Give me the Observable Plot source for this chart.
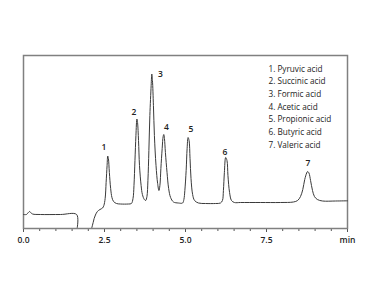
<!DOCTYPE html>
<html>
<head>
<meta charset="utf-8">
<script src="https://cdn.jsdelivr.net/npm/d3@7"></script>
<script src="https://cdn.jsdelivr.net/npm/@observablehq/plot@0.6"></script>
<style>
  html, body { margin: 0; padding: 0; background: #fff; }
  svg { display: block; }
</style>
</head>
<body>
<div id="chart"></div>
<script>
// Retention time (min) and detector signal (arbitrary units); null = break in the trace
const retentionTime = [
  0.00, 0.09, 0.15, 0.19, 0.22, 0.28, 0.52, 1.14, 1.64, 1.66,
  1.90,
  2.11, 2.15, 2.18, 2.22, 2.28, 2.36, 2.44, 2.48, 2.52, 2.55, 2.58, 2.60, 2.62, 2.65, 2.69, 2.73, 2.78, 2.87, 2.99,
  3.24, 3.33, 3.38, 3.41, 3.44, 3.47, 3.50, 3.52, 3.55, 3.58, 3.63, 3.67, 3.73, 3.77, 3.81, 3.84, 3.87, 3.90, 3.94, 3.96, 3.98,
  4.01, 4.04, 4.09, 4.14, 4.18, 4.21, 4.24, 4.28, 4.31, 4.33, 4.35, 4.38, 4.43, 4.48, 4.54, 4.63, 4.78, 4.91, 4.95, 4.98,
  5.02, 5.05, 5.08, 5.11, 5.14, 5.17, 5.22, 5.28, 5.40, 5.62, 5.93,
  6.08, 6.14, 6.17, 6.20, 6.24, 6.28, 6.31, 6.36, 6.42, 6.51, 6.70,
  7.31, 7.93, 8.33, 8.46, 8.55, 8.62, 8.68, 8.74, 8.77, 8.81, 8.86, 8.92, 8.98,
  9.07, 9.23, 9.63, 10.00
];
const signal = [
  14, 14, 16, 17, 16, 14.5, 14, 14, 14, 1,
  null,
  1, 6, 10, 13.5, 17, 19, 20.5, 23, 30, 46, 63, 72.5, 70, 56, 40, 31, 27, 25, 24.5,
  24.5, 25, 30, 43, 68, 93, 109.5, 106, 88, 63, 43, 34, 29, 28, 32, 48, 78, 113, 143, 154.5, 148,
  123, 93, 63, 45, 38, 43, 60, 80, 92, 94, 90, 76, 56, 40, 31, 26.5, 25.5, 25.5, 29, 38,
  58, 80, 91, 88, 70, 50, 34, 28, 25.5, 25, 25,
  25.5, 28, 38, 56, 71, 68, 53, 36, 28, 26, 26,
  26, 26, 26.5, 28, 32, 39, 49, 55.5, 57, 55.5, 48, 38, 32,
  29, 27.5, 27.5, 27.7
];

// Peak numbers and where their labels sit
const peakNumbers = ["1", "2", "3", "4", "5", "6", "7"];
const peakLabelTime = [2.48, 3.41, 4.23, 4.41, 5.17, 6.22, 8.78];
const peakLabelHeight = [81, 116, 154, 101, 99, 76.5, 65];

// Compound legend
const compounds = [
  "1. Pyruvic acid",
  "2. Succinic acid",
  "3. Formic acid",
  "4. Acetic acid",
  "5. Propionic acid",
  "6. Butyric acid",
  "7. Valeric acid"
];

// Axis ticks
const minorTicks = d3.range(0, 10.01, 0.5);
const majorTicks = [0, 2.5, 5, 7.5, 10];
const majorTickLabels = ["0.0", "2.5", "5.0", "7.5", "min"];

const trace = retentionTime.map((t, i) => ({t, s: signal[i]}));
const peaks = peakNumbers.map((n, i) => ({n, t: peakLabelTime[i], s: peakLabelHeight[i]}));

const font = "'Open Sans', 'DejaVu Sans', sans-serif";

const chart = Plot.plot({
  width: 372,
  height: 300,
  marginLeft: 23,
  marginRight: 25,
  marginTop: 55,
  marginBottom: 72,
  style: {fontFamily: font, background: "#fff"},
  x: {domain: [0, 10], label: null},
  y: {domain: [0, 173], label: null, axis: null},
  marks: [
    Plot.axisX({ticks: minorTicks, tickSize: 3, tickFormat: () => "", stroke: "#555", label: null}),
    Plot.axisX({
      ticks: majorTicks,
      tickSize: 4,
      tickPadding: 4,
      tickFormat: (d) => majorTickLabels[majorTicks.indexOf(d)],
      stroke: "#555",
      fill: "#222",
      fontSize: 8.5,
      fontWeight: 600,
      label: null
    }),
    Plot.frame({stroke: "#808080", strokeWidth: 1.5}),
    Plot.line(trace, {x: "t", y: "s", stroke: "#3a3a3a", strokeWidth: 1, curve: "catmull-rom"}),
    Plot.text(peaks, {x: "t", y: "s", text: "n", fontSize: 8.5, fontWeight: 600, fill: "#222"}),
    Plot.text([compounds.join("\n")], {
      x: 7.56,
      y: 166,
      textAnchor: "start",
      lineAnchor: "top",
      lineHeight: 1.55,
      fontSize: 8.2,
      fill: "#222"
    })
  ]
});

document.getElementById("chart").appendChild(chart);
</script>
</body>
</html>
